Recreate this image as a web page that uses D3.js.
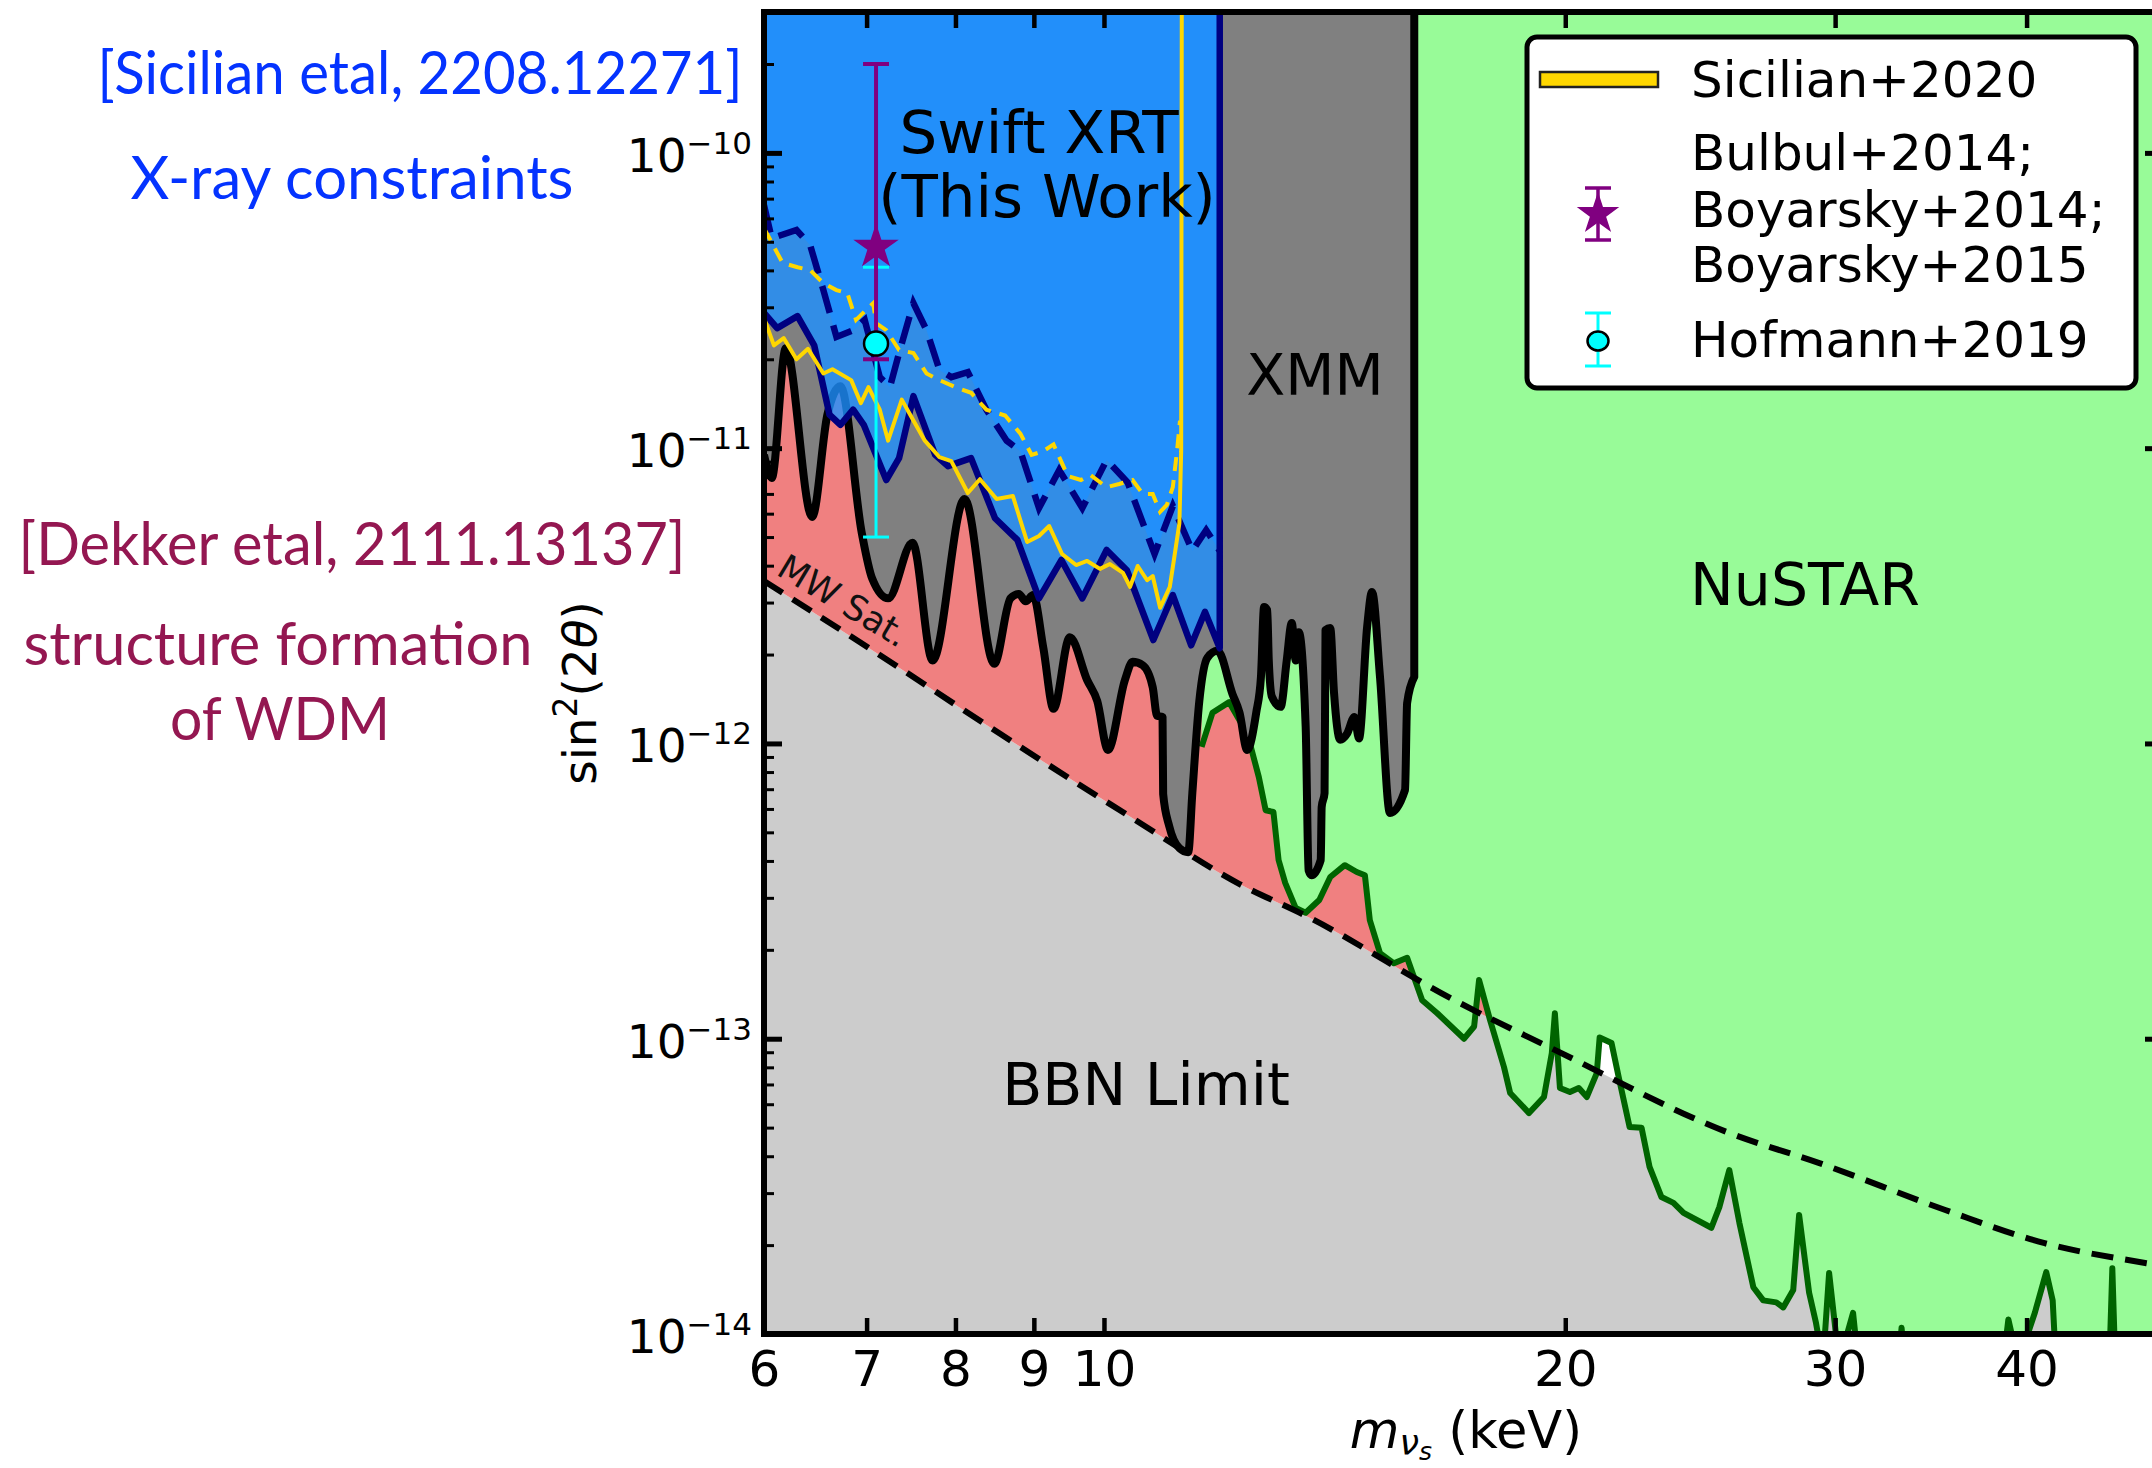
<!DOCTYPE html>
<html>
<head>
<meta charset="utf-8">
<script src="https://cdn.jsdelivr.net/npm/d3@7"></script>
<style>
  body { margin: 0; background: #fff; }
  svg { display: block; }
</style>
</head>
<body>
<svg id="chart" width="2152" height="1468"></svg>
<script>
// ---------------------------------------------------------------
// Sterile-neutrino parameter space: m (keV) vs sin^2(2 theta)
// ---------------------------------------------------------------

// Milky-Way satellite counts (structure formation) lower bound
const mwSatMass = [6.00, 7.06, 8.55, 10.44, 12.26, 13.60, 16.93, 19.70, 25.60, 29.30, 35.40, 41.10, 47.80, 49.10];
const mwSatSin  = [3.55e-12, 2.07e-12, 1.08e-12, 5.58e-13, 3.34e-13, 2.58e-13, 1.35e-13, 9.15e-14, 4.79e-14, 3.79e-14, 2.63e-14, 2.03e-14, 1.74e-14, 1.70e-14];
const salmonMaxMass = 20.8;

// XMM-Newton upper limit
const xmmMass = [6.00, 6.07, 6.20, 6.45, 6.60, 6.73, 6.95, 7.06, 7.23, 7.50, 7.73, 8.11, 8.48, 8.69, 8.80, 8.89, 8.99, 9.13, 9.27, 9.50,
                 9.75, 9.90, 10.06, 10.32, 10.44, 10.60, 10.76, 10.83, 10.92, 10.93, 11.03, 11.20, 11.35, 11.42, 11.54, 11.68, 11.86, 12.13, 12.26, 12.40,
                 12.57, 12.66, 12.72, 12.78, 12.81, 12.87, 13.04, 13.16, 13.26, 13.34, 13.40, 13.54, 13.60, 13.66, 13.85, 13.87, 13.93, 13.95, 14.05, 14.13,
                 14.26, 14.41, 14.57, 14.67, 14.85, 14.96, 15.14, 15.37, 15.72, 15.77, 15.94];
const xmmSin  = [9.49e-12, 7.93e-12, 2.18e-11, 5.85e-12, 1.30e-11, 1.62e-11, 5.15e-12, 3.61e-12, 3.10e-12, 4.78e-12, 1.91e-12, 6.73e-12, 1.86e-12, 3.10e-12, 3.21e-12, 3.03e-12, 3.18e-12, 2.10e-12, 1.31e-12, 2.29e-12,
                 1.64e-12, 1.39e-12, 9.51e-13, 1.64e-12, 1.89e-12, 1.84e-12, 1.55e-12, 1.24e-12, 1.23e-12, 6.75e-13, 5.25e-13, 4.42e-13, 4.28e-13, 6.79e-13, 1.39e-12, 1.95e-12, 2.06e-12, 1.47e-12, 1.27e-12, 9.51e-13,
                 1.27e-12, 1.68e-12, 2.90e-12, 2.83e-12, 1.91e-12, 1.44e-12, 1.33e-12, 1.91e-12, 2.56e-12, 1.91e-12, 2.38e-12, 1.14e-12, 3.72e-13, 3.58e-13, 4.03e-13, 6.10e-13, 6.79e-13, 2.42e-12, 2.46e-12, 1.48e-12,
                 1.03e-12, 1.08e-12, 1.23e-12, 1.04e-12, 2.48e-12, 3.26e-12, 1.68e-12, 5.81e-13, 6.95e-13, 1.37e-12, 1.68e-12];

// NuSTAR upper limit (values under 1e-14 run below the axis)
const nustarMass = [11.58, 11.77, 12.07, 12.28, 12.47, 12.62, 12.75, 12.90, 13.00, 13.13, 13.34, 13.54, 13.82, 14.05, 14.36, 14.62, 14.80, 14.91, 15.14, 15.46,
                    15.77, 16.13, 16.50, 17.18, 17.44, 17.57, 17.86, 18.24, 18.41, 18.94, 19.37, 19.60, 19.69, 19.84, 20.14, 20.41, 20.66, 20.97, 21.06, 21.44,
                    21.67, 22.03, 22.43, 22.70, 23.11, 23.53, 23.89, 24.91, 25.21, 25.59, 25.98, 26.53, 26.93, 27.46, 27.75, 28.17, 28.42, 28.85, 29.15, 29.46,
                    29.73, 30.18, 30.82, 31.06, 33.00, 33.15, 33.30, 38.62, 38.92, 39.50, 40.50, 41.20, 41.60, 41.80, 45.30, 45.50, 45.70, 49.20];
const nustarSin  = [9.73e-13, 1.27e-12, 1.38e-12, 1.18e-12, 9.73e-13, 7.69e-13, 5.94e-13, 5.86e-13, 4.03e-13, 3.37e-13, 2.77e-13, 2.67e-13, 2.95e-13, 3.53e-13, 3.87e-13, 3.67e-13, 3.58e-13, 2.52e-13, 1.95e-13, 1.80e-13,
                    1.88e-13, 1.35e-13, 1.22e-13, 1.00e-13, 1.10e-13, 1.58e-13, 1.16e-13, 8.02e-14, 6.55e-14, 5.60e-14, 6.35e-14, 8.94e-14, 1.22e-13, 6.81e-14, 6.60e-14, 6.81e-14, 6.35e-14, 7.65e-14, 1.01e-13, 9.67e-14,
                    7.42e-14, 5.02e-14, 4.99e-14, 3.68e-14, 2.91e-14, 2.78e-14, 2.57e-14, 2.29e-14, 2.69e-14, 3.59e-14, 2.38e-14, 1.44e-14, 1.30e-14, 1.28e-14, 1.23e-14, 1.41e-14, 2.53e-14, 1.38e-14, 1.09e-14, 8e-15,
                    1.61e-14, 8e-15, 1.18e-14, 8e-15, 8e-15, 1.05e-14, 8e-15, 8e-15, 1.12e-14, 8e-15, 1.18e-14, 1.62e-14, 1.30e-14, 8e-15, 8e-15, 1.67e-14, 8e-15, 8e-15];

// Swift XRT limit (solid) and its upper envelope (dashed)
const swiftMass = [6.00, 6.12, 6.31, 6.47, 6.62, 6.73, 6.86, 6.97, 7.21, 7.35, 7.51, 7.76, 7.91, 8.19, 8.49, 8.78, 9.07, 9.38, 9.68, 10.04, 10.35, 10.77, 11.09, 11.40, 11.64, 11.90];
const swiftSin  = [2.87e-11, 2.55e-11, 2.80e-11, 2.23e-11, 1.30e-11, 1.20e-11, 1.35e-11, 1.20e-11, 7.80e-12, 9.25e-12, 1.50e-11, 9.49e-12, 8.69e-12, 9.25e-12, 5.79e-12, 4.89e-12, 3.10e-12, 4.18e-12, 3.10e-12, 4.52e-12, 3.86e-12, 2.24e-12, 3.18e-12, 2.15e-12, 2.79e-12, 2.10e-12];
const swiftHiMass = [6.00, 6.07, 6.30, 6.43, 6.56, 6.69, 6.86, 6.98, 7.14, 7.25, 7.35, 7.51, 7.66, 7.81, 7.95, 8.15, 8.38, 8.64, 8.82, 9.07, 9.35, 9.68, 10.04, 10.36, 10.79, 11.09, 11.42, 11.66, 11.90];
const swiftHiSin  = [6.65e-11, 5.14e-11, 5.48e-11, 4.88e-11, 3.43e-11, 2.38e-11, 2.51e-11, 2.72e-11, 1.74e-11, 1.61e-11, 2.10e-11, 3.10e-11, 2.51e-11, 1.84e-11, 1.74e-11, 1.81e-11, 1.35e-11, 1.06e-11, 9.77e-12, 6.27e-12, 8.43e-12, 6.27e-12, 9.12e-12, 7.67e-12, 4.38e-12, 6.37e-12, 4.49e-12, 5.28e-12, 4.49e-12];

// Sicilian+2020 limit (solid) and upper envelope (dashed)
const sicilianMass = [6.00, 6.09, 6.18, 6.30, 6.41, 6.56, 6.65, 6.84, 6.94, 7.02, 7.14, 7.23, 7.38, 7.51, 7.64, 7.81, 7.95, 8.15, 8.30, 8.51,
                      8.72, 8.91, 9.07, 9.21, 9.39, 9.59, 9.75, 9.94, 10.09, 10.29, 10.40, 10.52, 10.67, 10.76, 10.88, 11.04, 11.11, 11.20, 11.23, 11.24];
const sicilianSin  = [2.76e-11, 2.23e-11, 2.36e-11, 2.00e-11, 2.17e-11, 1.79e-11, 1.85e-11, 1.70e-11, 1.42e-11, 1.61e-11, 1.35e-11, 1.06e-11, 1.46e-11, 1.24e-11, 1.06e-11, 9.33e-12, 9.04e-12, 7.05e-12, 7.85e-12, 6.73e-12,
                      6.89e-12, 4.81e-12, 5.04e-12, 5.45e-12, 4.38e-12, 4.02e-12, 4.15e-12, 3.90e-12, 4.05e-12, 3.78e-12, 3.39e-12, 3.99e-12, 3.57e-12, 3.69e-12, 2.88e-12, 3.39e-12, 4.21e-12, 5.57e-12, 9.77e-12, 3e-10];
const sicilianHiMass = [6.00, 6.17, 6.31, 6.43, 6.56, 6.69, 6.80, 6.89, 7.07, 7.10, 7.21, 7.35, 7.51, 7.66, 7.81, 8.00, 8.19, 8.38, 8.62, 8.82,
                        8.97, 9.13, 9.27, 9.47, 9.66, 9.80, 10.04, 10.23, 10.44, 10.60, 10.76, 10.88, 10.99, 11.09, 11.16, 11.21];
const sicilianHiSin  = [5.56e-11, 4.24e-11, 4.10e-11, 4.01e-11, 3.62e-11, 3.43e-11, 3.35e-11, 2.72e-11, 3.10e-11, 2.65e-11, 2.51e-11, 2.15e-11, 2.10e-11, 1.79e-11, 1.70e-11, 1.61e-11, 1.54e-11, 1.35e-11, 1.29e-11, 1.12e-11,
                        9.49e-12, 9.77e-12, 1.03e-11, 8.05e-12, 7.80e-12, 8.11e-12, 7.38e-12, 7.56e-12, 7.80e-12, 7.00e-12, 7.00e-12, 6.08e-12, 6.42e-12, 7.38e-12, 9.77e-12, 1.24e-11];

// 3.5 keV line detections: [mass, central, low, high]
const bulbulPoint  = [7.1, 4.8e-11, 2.0e-11, 2.0e-10];
const hofmannPoint = [7.1, 2.26e-11, 5.0e-12, 4.1e-11];

// axis ticks
const xTickValues = [6, 7, 8, 9, 10, 20, 30, 40];
const yMajorExp = [-14, -13, -12, -11, -10];

// ---------------------------------------------------------------
const svg = d3.select("#chart");
const plot = { left: 764, right: 2163, top: 12, bottom: 1334 };
const x = d3.scaleLog().domain([6, 49.1]).range([plot.left, plot.right]);
const y = d3.scaleLog().domain([1e-14, 3e-10]).range([plot.bottom, plot.top]);
const yTop = y.domain()[1], yBottom = y.domain()[0];
const FONT = "DejaVu Sans, sans-serif";

const defs = svg.append("defs");
defs.append("clipPath").attr("id", "plotClip").append("rect")
  .attr("x", plot.left).attr("y", plot.top)
  .attr("width", plot.right - plot.left).attr("height", plot.bottom - plot.top);
defs.append("clipPath").attr("id", "salmonClip").append("rect")
  .attr("x", plot.left).attr("y", plot.top)
  .attr("width", x(salmonMaxMass) - plot.left).attr("height", plot.bottom - plot.top);

const mw = d3.zip(mwSatMass, mwSatSin);
const xmm = d3.zip(xmmMass, xmmSin);
const nustar = d3.zip(nustarMass, nustarSin);
const swift = d3.zip(swiftMass, swiftSin);
const swiftHi = d3.zip(swiftHiMass, swiftHiSin);
const sicilian = d3.zip(sicilianMass, sicilianSin);
const sicilianHi = d3.zip(sicilianHiMass, sicilianHiSin);

const line = d3.line().x(d => x(d[0])).y(d => y(d[1]));
const smoothLine = d3.line().x(d => x(d[0])).y(d => y(d[1])).curve(d3.curveMonotoneX);
const areaAbove = d3.area().x(d => x(d[0])).y0(y(yTop)).y1(d => y(d[1]));
const areaAboveSmooth = d3.area().x(d => x(d[0])).y0(y(yTop)).y1(d => y(d[1])).curve(d3.curveMonotoneX);
const areaBelowSmooth = d3.area().x(d => x(d[0])).y0(y(yBottom)).y1(d => y(d[1])).curve(d3.curveMonotoneX);

const g = svg.append("g").attr("clip-path", "url(#plotClip)");

// BBN limit region
g.append("path").attr("d", areaBelowSmooth(mw)).attr("fill", "#cccccc");
// structure-formation exclusion above the MW satellite bound
g.append("g").attr("clip-path", "url(#salmonClip)")
  .append("path").attr("d", areaAboveSmooth(mw)).attr("fill", "#f08080");
// NuSTAR
g.append("path").attr("d", areaAbove(nustar)).attr("fill", "#98fb98");
g.append("path").attr("d", line(nustar)).attr("fill", "none")
  .attr("stroke", "#006400").attr("stroke-width", 6).attr("stroke-linejoin", "round");
// XMM
g.append("path").attr("d", areaAboveSmooth(xmm)).attr("fill", "#808080");
const xmmEdge = xmmMass[xmmMass.length - 1];
g.append("path").attr("d", smoothLine(xmm) + "L" + x(xmmEdge) + "," + y(yTop))
  .attr("fill", "none").attr("stroke", "#000").attr("stroke-width", 8).attr("stroke-linejoin", "round");
// MW satellites bound
g.append("path").attr("d", smoothLine(mw)).attr("fill", "none")
  .attr("stroke", "#000").attr("stroke-width", 6).attr("stroke-dasharray", "22 12");
// Swift XRT (this work)
g.append("path").attr("d", areaAbove(swift)).attr("fill", "#1e90ff").attr("fill-opacity", 0.8);
g.append("path").attr("d", areaAbove(swiftHi)).attr("fill", "#1e90ff").attr("fill-opacity", 0.8);
g.append("path").attr("d", line(swift.concat([[swiftMass[swiftMass.length - 1], yTop]])))
  .attr("fill", "none").attr("stroke", "#000080").attr("stroke-width", 6.5).attr("stroke-linejoin", "round");
g.append("path").attr("d", line(swiftHi)).attr("fill", "none")
  .attr("stroke", "#000080").attr("stroke-width", 6.5).attr("stroke-dasharray", "28 13");
// Sicilian+2020
g.append("path").attr("d", line(sicilian)).attr("fill", "none")
  .attr("stroke", "#ffd700").attr("stroke-width", 4).attr("stroke-linejoin", "round");
g.append("path").attr("d", line(sicilianHi)).attr("fill", "none")
  .attr("stroke", "#ffd700").attr("stroke-width", 4).attr("stroke-dasharray", "14 9");

// MW Sat. label along the dashed bound
g.append("text").attr("transform", "translate(775,574) rotate(31)")
  .attr("font-family", FONT).attr("font-size", 35).attr("fill", "#111").text("MW Sat.");

// region labels
const regionLabel = (txt, cx, by, size) => svg.append("text")
  .attr("x", cx).attr("y", by).attr("text-anchor", "middle")
  .attr("font-family", FONT).attr("font-size", size).attr("fill", "#000").text(txt);
regionLabel("Swift XRT", 1039, 153, 59.5);
regionLabel("(This Work)", 1047, 217, 59.5);
regionLabel("XMM", 1315, 395, 57);
regionLabel("NuSTAR", 1805, 605, 58.5);
regionLabel("BBN Limit", 1146, 1105, 58.5);

// error bars
function errorBar(p, color, lw, capHalf) {
  const cx = x(p[0]);
  svg.append("line").attr("x1", cx).attr("x2", cx).attr("y1", y(p[2])).attr("y2", y(p[3]))
    .attr("stroke", color).attr("stroke-width", lw);
  [p[2], p[3]].forEach(v => svg.append("line")
    .attr("x1", cx - capHalf).attr("x2", cx + capHalf).attr("y1", y(v)).attr("y2", y(v))
    .attr("stroke", color).attr("stroke-width", lw));
}
errorBar(hofmannPoint, "#00ffff", 3, 13);
errorBar(bulbulPoint, "#800080", 4, 13);
svg.append("path").attr("d", d3.symbol(d3.symbolStar, 640)())
  .attr("transform", `translate(${x(bulbulPoint[0])},${y(bulbulPoint[1])})`).attr("fill", "#800080");
svg.append("circle").attr("cx", x(hofmannPoint[0])).attr("cy", y(hofmannPoint[1])).attr("r", 12)
  .attr("fill", "#00ffff").attr("stroke", "#000").attr("stroke-width", 2.5);

// ---------------- axes ----------------
const yMajor = yMajorExp.map(e => Math.pow(10, e));
const yMinor = [];
for (let e = -14; e <= -10; e++) for (let k = 2; k <= 9; k++) {
  const v = k * Math.pow(10, e);
  if (v <= yTop) yMinor.push(v);
}
function styleTicks(sel, w) {
  sel.select(".domain").remove();
  sel.selectAll(".tick line").attr("stroke", "#000").attr("stroke-width", w);
}
svg.append("g").attr("transform", `translate(${plot.left},0)`)
  .call(d3.axisLeft(y).tickValues(yMajor).tickSize(-18).tickFormat(""))
  .call(s => styleTicks(s, 5));
svg.append("g").attr("transform", `translate(${plot.left},0)`)
  .call(d3.axisLeft(y).tickValues(yMinor).tickSize(-10).tickFormat(""))
  .call(s => styleTicks(s, 3));
svg.append("g").attr("transform", `translate(${plot.right},0)`)
  .call(d3.axisRight(y).tickValues(yMajor).tickSize(-18).tickFormat(""))
  .call(s => styleTicks(s, 5));
svg.append("g").attr("transform", `translate(${plot.right},0)`)
  .call(d3.axisRight(y).tickValues(yMinor).tickSize(-10).tickFormat(""))
  .call(s => styleTicks(s, 3));
const xAxisG = svg.append("g").attr("transform", `translate(0,${plot.bottom})`)
  .call(d3.axisBottom(x).tickValues(xTickValues).tickSize(-16).tickFormat(d3.format("d")))
  .call(s => styleTicks(s, 4.5));
xAxisG.selectAll(".tick text").attr("y", 52).attr("dy", null)
  .attr("font-family", FONT).attr("font-size", 50).attr("fill", "#000");
svg.append("g").attr("transform", `translate(0,${plot.top})`)
  .call(d3.axisTop(x).tickValues(xTickValues).tickSize(-16).tickFormat(""))
  .call(s => styleTicks(s, 4.5));

// y tick labels 10^n
yMajorExp.forEach(e => {
  const t = svg.append("text").attr("x", 752).attr("y", y(Math.pow(10, e)) + 19)
    .attr("text-anchor", "end").attr("font-family", FONT).attr("fill", "#000");
  t.append("tspan").attr("font-size", 47).text("10");
  t.append("tspan").attr("font-size", 31).attr("dy", -18).text("\u2212" + Math.abs(e));
});

// spines
svg.append("rect").attr("x", plot.left).attr("y", plot.top)
  .attr("width", plot.right - plot.left).attr("height", plot.bottom - plot.top)
  .attr("fill", "none").attr("stroke", "#000").attr("stroke-width", 6);

// axis titles
const xt = svg.append("text").attr("x", 1466).attr("y", 1448).attr("text-anchor", "middle")
  .attr("font-family", FONT).attr("font-size", 51).attr("fill", "#000");
xt.append("tspan").attr("font-style", "italic").text("m");
xt.append("tspan").attr("font-style", "italic").attr("font-size", 35).attr("dy", 7).text("\u03bd");
xt.append("tspan").attr("font-style", "italic").attr("font-size", 25).attr("dy", 5).text("s");
xt.append("tspan").attr("dy", -12).text("\u00a0(keV)");

const yt = svg.append("text").attr("transform", "translate(596,693) rotate(-90)").attr("text-anchor", "middle")
  .attr("font-family", FONT).attr("font-size", 47).attr("fill", "#000");
yt.append("tspan").text("sin");
yt.append("tspan").attr("font-size", 33).attr("dy", -19).text("2");
yt.append("tspan").attr("dy", 19).text("(2");
yt.append("tspan").attr("font-style", "italic").text("\u03b8");
yt.append("tspan").text(")");

// ---------------- legend ----------------
const lg = svg.append("g");
lg.append("rect").attr("x", 1527).attr("y", 37).attr("width", 609).attr("height", 351).attr("rx", 10)
  .attr("fill", "#fff").attr("stroke", "#000").attr("stroke-width", 5);
lg.append("rect").attr("x", 1540).attr("y", 72).attr("width", 118).attr("height", 15)
  .attr("fill", "#ffd700").attr("stroke", "#222").attr("stroke-width", 2.5);
const legendText = (txt, by) => lg.append("text").attr("x", 1691).attr("y", by)
  .attr("font-family", FONT).attr("font-size", 50).attr("fill", "#000").text(txt);
legendText("Sicilian+2020", 97);
legendText("Bulbul+2014;", 170);
legendText("Boyarsky+2014;", 227);
legendText("Boyarsky+2015", 282);
legendText("Hofmann+2019", 357);
// legend markers
lg.append("line").attr("x1", 1598).attr("x2", 1598).attr("y1", 188).attr("y2", 240).attr("stroke", "#800080").attr("stroke-width", 3.5);
[188, 240].forEach(v => lg.append("line").attr("x1", 1585).attr("x2", 1611).attr("y1", v).attr("y2", v).attr("stroke", "#800080").attr("stroke-width", 3.5));
lg.append("path").attr("d", d3.symbol(d3.symbolStar, 560)()).attr("transform", "translate(1598,214)").attr("fill", "#800080");
lg.append("line").attr("x1", 1598).attr("x2", 1598).attr("y1", 313).attr("y2", 366).attr("stroke", "#00ffff").attr("stroke-width", 3);
[313, 366].forEach(v => lg.append("line").attr("x1", 1585).attr("x2", 1611).attr("y1", v).attr("y2", v).attr("stroke", "#00ffff").attr("stroke-width", 3));
lg.append("ellipse").attr("cx", 1598).attr("cy", 341).attr("rx", 10.5).attr("ry", 9.5)
  .attr("fill", "#00ffff").attr("stroke", "#000").attr("stroke-width", 2.5);

// ---------------- side annotations ----------------
const note = (txt, cx, by, size, len, color) => svg.append("text")
  .attr("x", cx).attr("y", by).attr("text-anchor", "middle")
  .attr("font-family", "Lato, sans-serif").attr("font-size", size).attr("fill", color)
  .attr("textLength", len).attr("lengthAdjust", "spacingAndGlyphs").text(txt);
note("[Sicilian etal, 2208.12271]", 420, 94, 60, 645, "#0433ff");
note("X-ray constraints", 352, 199, 60, 443, "#0433ff");
note("[Dekker etal, 2111.13137]", 352, 565, 60, 667, "#941751");
note("structure formation", 278, 665, 60, 509, "#941751");
note("of WDM", 280, 740, 60, 220, "#941751");
</script>
</body>
</html>
